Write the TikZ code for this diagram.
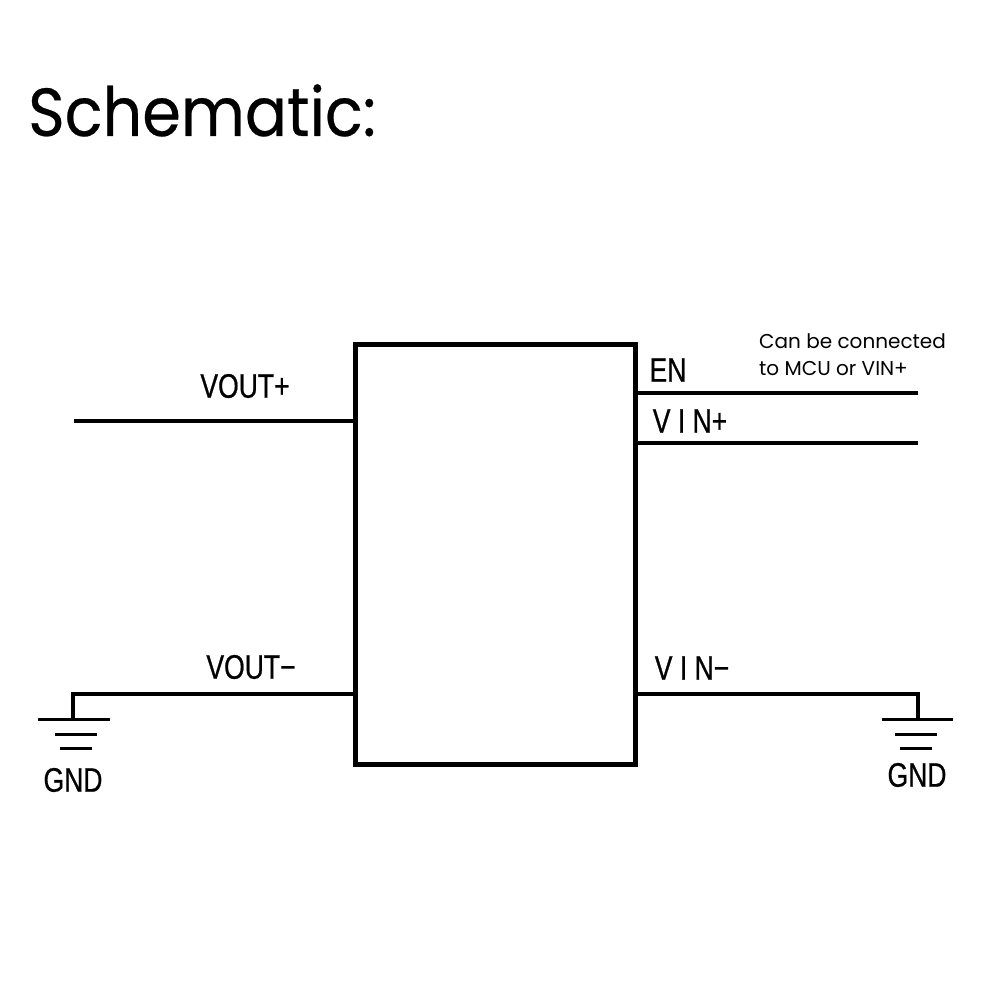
\documentclass[tikz,border=0pt]{standalone}
\usepackage{fontspec}
\setmainfont{Poppins}
\newfontfamily\titlefont[FakeStretch=0.915,FakeBold=0.35]{Poppins}
\newfontfamily\pinfont[FakeStretch=0.78,FakeBold=0.6]{Liberation Sans}
\begin{document}
\begin{tikzpicture}
    [x=1pt,y=-1pt,
     box_style/.style={draw=black,line width=5pt,minimum width=280pt,minimum height=420pt,inner sep=0pt},
     wire_style/.style={draw=black,line width=4pt},
     bar_style/.style={draw=black,line width=3.6pt},
     pin_style/.style={inner sep=0pt,font=\pinfont\fontsize{34}{34}\selectfont},
     note_style/.style={inner sep=0pt,anchor=west,font=\fontsize{20}{24}\selectfont}]
        \useasboundingbox (0,0) rectangle (1000,1000);
        \fill[white] (0,0) rectangle (1000,1000);
        \node[inner sep=0pt,anchor=base west,font=\titlefont\fontsize{68}{68}\selectfont] (title) at (28,136) {Schematic:};
        \node[box_style] (chip) at (495.5,554.5) {};
        \coordinate (vout_p) at (74,420.5);
        \coordinate (vout_n) at (73,693.5);
        \coordinate (gnd_l) at (73,719.5);
        \coordinate (en_end) at (918,392.5);
        \coordinate (vin_p) at (918,442.5);
        \coordinate (vin_n) at (918,693.5);
        \coordinate (gnd_r) at (918,719.5);
        \draw[wire_style] (vout_p) -- (vout_p -| chip.west);
        \draw[wire_style] (gnd_l) -- (vout_n) -- (vout_n -| chip.west);
        \draw[wire_style] (en_end) -- (en_end -| chip.east);
        \draw[wire_style] (vin_p) -- (vin_p -| chip.east);
        \draw[wire_style] (gnd_r) -- (vin_n) -- (vin_n -| chip.east);
        % ground symbols
        \draw[bar_style] ([xshift=-35pt]gnd_l) -- ([xshift=37pt]gnd_l);
        \draw[bar_style] ([xshift=-18pt,yshift=-15pt]gnd_l) -- ([xshift=24pt,yshift=-15pt]gnd_l);
        \draw[bar_style] ([xshift=-13pt,yshift=-29pt]gnd_l) -- ([xshift=19pt,yshift=-29pt]gnd_l);
        \draw[bar_style] ([xshift=-36pt]gnd_r) -- ([xshift=35pt]gnd_r);
        \draw[bar_style] ([xshift=-23pt,yshift=-15pt]gnd_r) -- ([xshift=19pt,yshift=-15pt]gnd_r);
        \draw[bar_style] ([xshift=-18pt,yshift=-29pt]gnd_r) -- ([xshift=14pt,yshift=-29pt]gnd_r);
        % labels
        \node[pin_style] (vout_p_label) at (245,386) {VOUT+};
        \node[pin_style] (vout_n_label) at (251,667) {VOUT−};
        \node[pin_style] (en_label) at (668,370) {EN};
        \node[pin_style] (vin_p_label) at (690,421) {V I N+};
        \node[pin_style] (vin_n_label) at (692,668) {V I N−};
        \node[pin_style] (gnd_l_label) at (73,780) {GND};
        \node[pin_style] (gnd_r_label) at (917,775) {GND};
        \node[note_style] (note_a) at (759,341) {Can be connected};
        \node[note_style] (note_b) at (759,369) {to MCU or VIN+};
    \end{tikzpicture}
\end{document}
